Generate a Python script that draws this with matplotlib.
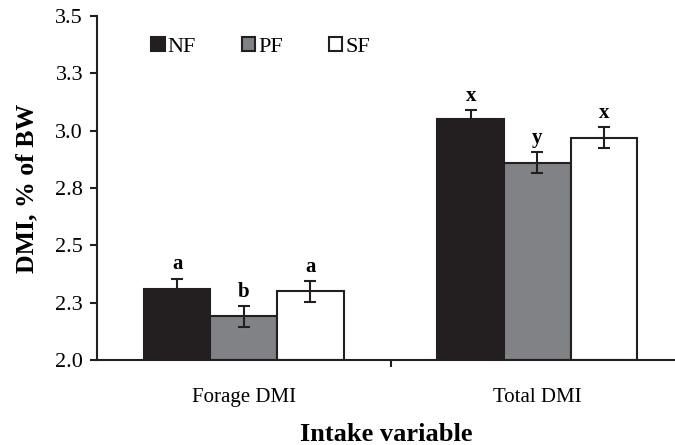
import numpy as np
import matplotlib.pyplot as plt

plt.rcParams['font.family'] = ['Liberation Serif', 'DejaVu Serif']

categories = ['Forage DMI', 'Total DMI']
treatments = ['NF', 'PF', 'SF']
means = {
    'NF': [2.31, 3.05],
    'PF': [2.19, 2.86],
    'SF': [2.30, 2.97],
}
sems = {
    'NF': [0.045, 0.04],
    'PF': [0.045, 0.045],
    'SF': [0.045, 0.045],
}
letters = {
    'NF': ['a', 'x'],
    'PF': ['b', 'y'],
    'SF': ['a', 'x'],
}
y_ticks = [2.0, 2.25, 2.5, 2.75, 3.0, 3.25, 3.5]
y_tick_labels = ['2.0', '2.3', '2.5', '2.8', '3.0', '3.3', '3.5']

colors = {'NF': '#231f20', 'PF': '#808285', 'SF': '#ffffff'}
edge = '#231f20'

fig = plt.figure(figsize=(6.75, 4.45), dpi=100)
ax = fig.add_axes([97 / 675, 85 / 445, 578 / 675, 344 / 445])

x = np.arange(len(categories))
width = 0.2266
offsets = [-width, 0, width]

for off, t in zip(offsets, treatments):
    ax.bar(x + off, np.array(means[t]) - 2.0, width, bottom=2.0,
           color=colors[t], edgecolor=edge, linewidth=1.5, label=t, zorder=2)
    ax.errorbar(x + off, means[t], yerr=sems[t], fmt='none', ecolor=edge,
                elinewidth=1.5, capsize=4, capthick=1.5, zorder=3)
    for xi, m, s, lab in zip(x + off, means[t], sems[t], letters[t]):
        ax.annotate(lab, (xi, m + s), xytext=(0, 3), textcoords='offset points',
                    ha='center', va='bottom', fontsize=15, fontweight='bold')

ax.set_xlim(-0.5, 1.5 - 9 / 293.5)
ax.set_ylim(2.0, 3.5)
ax.set_yticks(y_ticks)
ax.set_yticklabels(y_tick_labels)
ax.set_xticks([0.5])
ax.set_xticklabels([''])
ax.set_xticks(x, minor=True)
ax.set_xticklabels(categories, minor=True)
ax.tick_params(axis='x', which='minor', length=0, pad=20, labelsize=15)
ax.tick_params(axis='x', which='major', direction='out', length=5, width=1.5, color=edge)
ax.tick_params(axis='y', direction='out', length=5, width=1.5, color=edge,
               labelsize=16, pad=5)

for side in ['top', 'right']:
    ax.spines[side].set_visible(False)
for side in ['left', 'bottom']:
    ax.spines[side].set_linewidth(1.5)
    ax.spines[side].set_color(edge)

ax.set_ylabel('DMI, % of BW', fontsize=18.5, fontweight='bold', labelpad=12)
ax.set_xlabel('Intake variable', fontsize=19, fontweight='bold', labelpad=12)

ax.legend(ncol=3, loc='upper left', bbox_to_anchor=(0.063, 0.99), frameon=False,
          fontsize=16, handlelength=0.6, handleheight=0.6, handletextpad=0.15,
          columnspacing=2.05, borderpad=0.3)

fig.savefig('out.png', dpi=100)
